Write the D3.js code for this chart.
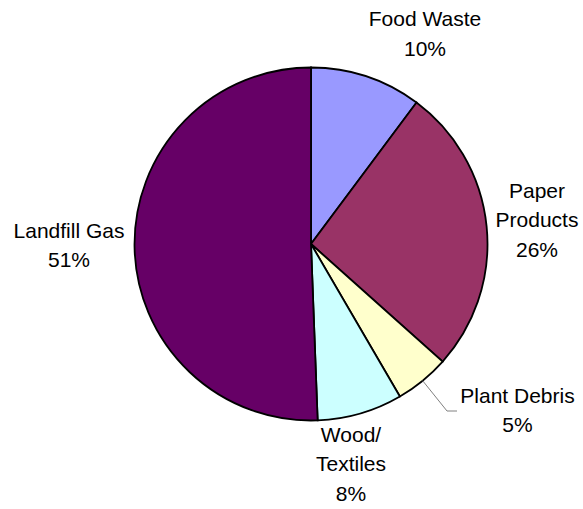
<!DOCTYPE html>
<html><head><meta charset="utf-8">
<script src="https://cdn.jsdelivr.net/npm/d3@7"></script>
<style>html,body{margin:0;padding:0;background:#fff;}svg{display:block;}</style>
</head><body>
<svg id="chart" width="583" height="509"></svg>
<script>
// Data
const categories = ["Food Waste", "Paper Products", "Plant Debris", "Wood/Textiles", "Landfill Gas"];
const values = [10.2, 26.4, 5.0, 7.8, 50.6];
const labelLines = [["Food Waste"], ["Paper", "Products"], ["Plant Debris"], ["Wood/", "Textiles"], ["Landfill Gas"]];
const colors = ["#9999FF", "#993366", "#FFFFCC", "#CCFFFF", "#660066"];

// Layout (not data)
const cx = 311, cy = 244, r = 176.5;
const lineH = 29.5;
// label block: center x and first baseline, relative to pie centre
const labelLayout = [
  {dx: 114, dy: -218},
  {dx: 226, dy: -46.5},
  {dx: 206.5, dy: 158.5},
  {dx: 40, dy: 197.5},
  {dx: -242, dy: -6.5}
];

const svg = d3.select("#chart");
const g = svg.append("g").attr("transform", `translate(${cx},${cy})`);
const total = d3.sum(values);
const pie = d3.pie().sort(null).value(d => d).startAngle(0).endAngle(2 * Math.PI);
const arcs = pie(values);
const arc = d3.arc().innerRadius(0).outerRadius(r);

g.selectAll("path.slice").data(arcs).join("path")
  .attr("class", "slice")
  .attr("d", arc)
  .attr("fill", (d, i) => colors[i])
  .attr("stroke", "#000")
  .attr("stroke-width", 1.8)
  .attr("stroke-linejoin", "miter");

// leader line for Plant Debris
const pd = arcs[2];
const mid = (pd.startAngle + pd.endAngle) / 2;
const p0 = [r * Math.sin(mid), -r * Math.cos(mid)];
const lay = labelLayout[2];
const p1 = [lay.dx - 70.5, lay.dy + 8.5];
const p2 = [lay.dx - 60.5, lay.dy + 8.5];
g.append("polyline")
  .attr("points", [p0, p1, p2].map(p => p.join(",")).join(" "))
  .attr("fill", "none")
  .attr("stroke", "#808080")
  .attr("stroke-width", 1);

// labels
arcs.forEach((d, i) => {
  const L = labelLayout[i];
  const pct = Math.round(values[i] / total * 100) + "%";
  const lines = labelLines[i].concat([pct]);
  const t = g.append("text")
    .attr("font-family", "Liberation Sans, Arial, sans-serif")
    .attr("font-size", 21)
    .attr("fill", "#000")
    .attr("text-anchor", "middle");
  lines.forEach((s, k) => {
    t.append("tspan").attr("x", L.dx).attr("y", L.dy + k * lineH).text(s);
  });
});
</script>
</body></html>
